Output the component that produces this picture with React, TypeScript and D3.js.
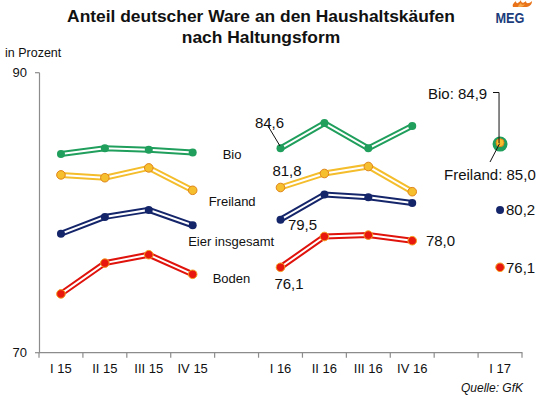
import * as d3 from "d3";

const categories = ["I 15", "II 15", "III 15", "IV 15", "gap1", "I 16", "II 16", "III 16", "IV 16", "gap2", "I 17"];
const quarters15 = ["I 15", "II 15", "III 15", "IV 15"];
const quarters16 = ["I 16", "II 16", "III 16", "IV 16"];

const bio15 = [84.2, 84.6, 84.5, 84.3];
const freiland15 = [82.7, 82.5, 83.2, 81.6];
const eier15 = [78.5, 79.7, 80.2, 79.1];
const boden15 = [74.2, 76.4, 77.0, 75.6];

const bio16 = [84.6, 86.4, 84.6, 86.2];
const freiland16 = [81.8, 82.8, 83.3, 81.5];
const eier16 = [79.5, 81.3, 81.1, 80.7];
const boden16 = [76.1, 78.3, 78.4, 78.0];

const i17 = { bio: 84.9, freiland: 85.0, eier: 80.2, boden: 76.1 };

const FONT = "Arial, 'Liberation Sans', sans-serif";

type Series = {
  name: string;
  color: string;
  fill: string;
  border: string | null;
  v15: number[];
  v16: number[];
};

const series: Series[] = [
  { name: "Boden", color: "#e0120c", fill: "#e8180e", border: "#f5a020", v15: boden15, v16: boden16 },
  { name: "Eier insgesamt", color: "#15256a", fill: "#15256a", border: null, v15: eier15, v16: eier16 },
  { name: "Freiland", color: "#f4bd2c", fill: "#f6bf2e", border: "#e0841a", v15: freiland15, v16: freiland16 },
  { name: "Bio", color: "#1f9e5c", fill: "#1f9e5c", border: null, v15: bio15, v16: bio16 },
];

export default function App() {
  const x = d3.scaleBand<string>().domain(categories).range([39, 522]).padding(0);
  const y = d3.scaleLinear().domain([70, 90]).range([352.7, 72.7]);
  const cx = (c: string) => (x(c) as number) + x.bandwidth() / 2;

  const line = d3
    .line<[string, number]>()
    .x((d) => cx(d[0]))
    .y((d) => y(d[1]));

  const gapX = x("gap1") as number;
  const tickXs = categories.map((c) => x(c) as number).concat([522]);

  return (
    <div style={{ position: "fixed", left: 0, top: 0 }}>
      <svg width={539} height={399} style={{ display: "block", background: "#fff" }} fontFamily={FONT}>
        {/* title */}
        <text x={261} y={21.5} textAnchor="middle" fontSize={17.4} fontWeight="bold" fill="#111">
          Anteil deutscher Ware an den Haushaltskäufen
        </text>
        <text x={261} y={43.3} textAnchor="middle" fontSize={17.4} fontWeight="bold" fill="#111">
          nach Haltungsform
        </text>

        {/* logo */}
        <g transform="translate(5,0)">
          <path d="M508,7 C507,4 509,3 511,1 C511,4 513,4 516,0 C516,3 518,4 521,1 C521,4 524,4 527,1 C527,5 524,7 520,7 Z" fill="#e8731a" />
          <path d="M513,7 C513,5 515,4 516,3 C516,5 518,5 520,4 C519,6 517,7 515,7 Z" fill="#f6a94a" />
        </g>
        <text x={495.5} y={22.7} fontSize={15.5} fontWeight="bold" fill="#1c3d7c" textLength={29} lengthAdjust="spacingAndGlyphs">
          MEG
        </text>

        <text x={5} y={57} fontSize={12.5} fill="#111">in Prozent</text>

        {/* y axis */}
        <line x1={39.5} x2={39.5} y1={y(90)} y2={y(70)} stroke="#8c8c8c" strokeWidth={1.2} />
        {[70, 90].map((t) => (
          <g key={t}>
            <line x1={35} x2={39.5} y1={y(t)} y2={y(t)} stroke="#8c8c8c" strokeWidth={1.2} />
            <text x={27} y={y(t) + 4.5} textAnchor="end" fontSize={13} fill="#111">
              {t}
            </text>
          </g>
        ))}

        {/* x axis */}
        <line x1={39} x2={522.5} y1={y(70)} y2={y(70)} stroke="#8c8c8c" strokeWidth={1.2} />
        {tickXs.map((tx, i) => (
          <line key={i} x1={tx} x2={tx} y1={y(70)} y2={y(70) + 5} stroke="#8c8c8c" strokeWidth={1.2} />
        ))}
        {categories
          .filter((c) => !c.startsWith("gap"))
          .map((c) => (
            <text key={c} x={cx(c)} y={372.5} textAnchor="middle" fontSize={13} fill="#111">
              {c}
            </text>
          ))}

        {/* lines */}
        {series.map((s) =>
          [
            quarters15.map((q, i) => [q, s.v15[i]] as [string, number]),
            quarters16.map((q, i) => [q, s.v16[i]] as [string, number]),
          ].map((pts, k) => (
            <g key={s.name + k}>
              <path d={line(pts) || ""} fill="none" stroke={s.color} strokeWidth={6} />
              <path d={line(pts) || ""} fill="none" stroke="#fff" strokeWidth={2} />
              {pts.map((p) => (
                <circle
                  key={p[0]}
                  cx={cx(p[0])}
                  cy={y(p[1])}
                  r={s.border ? 4.3 : 4}
                  fill={s.fill}
                  stroke={s.border || "none"}
                  strokeWidth={1}
                />
              ))}
            </g>
          ))
        )}

        {/* series labels */}
        <text x={gapX + 8} y={159} fontSize={13} fill="#111">Bio</text>
        <text x={gapX - 6} y={206} fontSize={13} fill="#111">Freiland</text>
        <text x={gapX - 26.5} y={245.5} fontSize={13} fill="#111">Eier insgesamt</text>
        <text x={gapX - 2} y={283} fontSize={13} fill="#111">Boden</text>

        {/* value labels 2016 */}
        <line x1={268} y1={126} x2={280} y2={146} stroke="#111" strokeWidth={1} />
        <text x={269.5} y={128} textAnchor="middle" fontSize={15} fill="#111">84,6</text>
        <text x={287} y={175.5} textAnchor="middle" fontSize={15} fill="#111">81,8</text>
        <text x={302.5} y={229.5} textAnchor="middle" fontSize={15} fill="#111">79,5</text>
        <text x={289} y={288.5} textAnchor="middle" fontSize={15} fill="#111">76,1</text>
        <text x={440.5} y={246} textAnchor="middle" fontSize={15} fill="#111">78,0</text>

        {/* I 17 */}
        <circle cx={cx("I 17")} cy={y(i17.bio)} r={7.5} fill="#1f9e5c" />
        <circle cx={cx("I 17")} cy={y(i17.freiland)} r={4} fill="#f6bf2e" stroke="#e0841a" strokeWidth={1} />
        <circle cx={cx("I 17")} cy={y(i17.eier)} r={4} fill="#15256a" />
        <circle cx={cx("I 17")} cy={y(i17.boden)} r={4.3} fill="#e8180e" stroke="#f5a020" strokeWidth={1} />

        <polyline
          points={`493,92.5 ${cx("I 17") - 1},92.5 ${cx("I 17") - 1},${y(i17.bio) - 1}`}
          fill="none"
          stroke="#111"
          strokeWidth={1}
        />
        <text x={428} y={98.5} fontSize={15} fill="#111">Bio: 84,9</text>
        <line x1={490} y1={162} x2={cx("I 17") - 0.5} y2={y(i17.freiland) + 1} stroke="#111" strokeWidth={1} />
        <text x={444} y={179.5} fontSize={15} fill="#111">Freiland: 85,0</text>
        <text x={506} y={214.5} fontSize={15} fill="#111">{"80,2"}</text>
        <text x={506} y={272.5} fontSize={15} fill="#111">{"76,1"}</text>

        <text x={523} y={392} textAnchor="end" fontSize={12} fontStyle="italic" fill="#111">
          Quelle: GfK
        </text>
      </svg>
    </div>
  );
}
